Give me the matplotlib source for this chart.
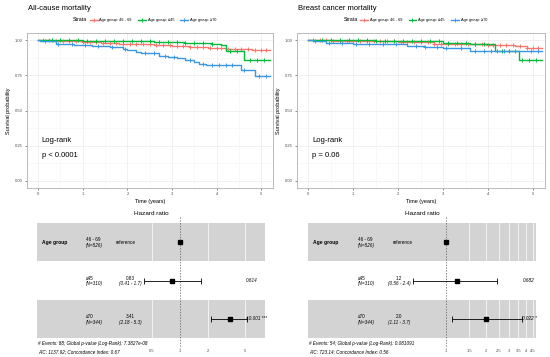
import numpy as np
import matplotlib
matplotlib.use("Agg")
import matplotlib.pyplot as plt
from matplotlib.lines import Line2D

plt.rcParams['font.family'] = ['Liberation Sans', 'DejaVu Sans']

# ---- Kaplan-Meier data ----
groups = ['Age group: 46 - 69', 'Age group: \u226445', 'Age group: \u226570']
colors = ['#F8766D', '#00BA38', '#3B97E3']
t_end = 5.2

# all-cause mortality: step times and survival after each step
ac_times = [
    [0, 0.3, 0.6, 1.0, 1.4, 1.8, 2.2, 2.6, 3.0, 3.4, 3.8, 4.2, 4.5, 4.8],
    [0, 1.0, 2.0, 2.6, 3.3, 3.9, 4.1, 4.2, 4.62],
    [0, 0.05, 0.4, 0.8, 1.2, 1.6, 1.9, 2.0, 2.2, 2.3, 2.7, 2.9, 3.1, 3.3,
     3.5, 3.6, 3.75, 4.55, 4.85],
]
ac_surv = [
    [1.0, 0.995, 0.99, 0.985, 0.98, 0.975, 0.97, 0.965, 0.958, 0.952, 0.946,
     0.94, 0.935, 0.932],
    [1.0, 0.995, 0.99, 0.985, 0.98, 0.975, 0.965, 0.924, 0.856],
    [1.0, 0.99, 0.97, 0.965, 0.955, 0.95, 0.94, 0.93, 0.915, 0.905, 0.89,
     0.877, 0.87, 0.858, 0.845, 0.83, 0.823, 0.787, 0.743],
]

# breast cancer mortality
bc_times = [
    [0, 0.5, 1.2, 2.0, 2.8, 3.4, 4.0, 4.6, 4.85],
    [0, 1.5, 2.5, 3.0, 3.6, 4.15, 4.68],
    [0, 0.1, 0.4, 1.0, 1.6, 2.2, 2.6, 3.0, 3.6],
]
bc_surv = [
    [1.0, 0.995, 0.99, 0.985, 0.975, 0.97, 0.962, 0.956, 0.947],
    [1.0, 0.995, 0.99, 0.98, 0.97, 0.925, 0.855],
    [1.0, 0.99, 0.98, 0.975, 0.97, 0.96, 0.95, 0.945, 0.924],
]

# censoring times per age group (same cohort for both endpoints)
censor = [
    [0.1, 0.25, 0.4, 0.55, 0.7, 0.85, 1.0, 1.15, 1.3, 1.45, 1.6, 1.75, 1.9,
     2.05, 2.2, 2.35, 2.5, 2.65, 2.8, 2.95, 3.1, 3.25, 3.4, 3.55, 3.7, 3.85,
     4.0, 4.1, 4.25, 4.4, 4.55, 4.7, 4.85, 5.0, 5.1],
    [0.3, 0.5, 0.7, 0.9, 1.1, 1.3, 1.5, 1.7, 1.9, 2.1, 2.3, 2.5, 2.7, 2.9,
     3.1, 3.3, 3.5, 3.7, 3.9, 4.3, 4.45, 4.75, 4.9, 5.05],
    [0.15, 0.45, 0.75, 1.05, 1.35, 1.65, 1.95, 2.4, 2.6, 2.85, 3.05, 3.4,
     3.7, 3.9, 4.05, 4.2, 4.35, 4.6, 4.95, 5.1],
]

km_titles = ['All-cause mortality', 'Breast cancer mortality']
km_pvals = ['p < 0.0001', 'p = 0.06']

# ---- forest plot data ----
fp_levels = ['46 - 69', '\u226445', '\u226570']
fp_n = [526, 310, 344]
fp_hr = [[1.0, 0.83, 3.41], [1.0, 1.2, 2.0]]
fp_hr_txt = [['reference', '0.83', '3.41'], ['reference', '1.2', '2.0']]
fp_lo = [[None, 0.41, 2.18], [None, 0.56, 1.11]]
fp_hi = [[None, 1.7, 5.3], [None, 2.4, 3.7]]
fp_p = [['', '0.614', '<0.001 ***'], ['', '0.682', '0.022 *']]
fp_ticks = [[0.5, 1, 2, 5], [1, 1.5, 2, 2.5, 3, 3.5, 4, 4.5]]
fp_notes = [
    ['# Events: 88; Global p-value (Log-Rank): 7.3827e-08',
     'AIC: 1137.92; Concordance Index: 0.67'],
    ['# Events: 54; Global p-value (Log-Rank): 0.081091',
     'AIC: 723.14; Concordance Index: 0.56'],
]

W, H = 550, 357
fig = plt.figure(figsize=(5.5, 3.57), dpi=100)


def box(x0, y0, x1, y1):
    return [x0 / W, 1 - y1 / H, (x1 - x0) / W, (y1 - y0) / H]


def step_value(ts, ss, t):
    i = np.searchsorted(ts, t, side='right') - 1
    return ss[max(i, 0)]


km_boxes = [(27, 33, 273, 188), (297, 33, 545, 188)]
for k, (times, survs) in enumerate([(ac_times, ac_surv), (bc_times, bc_surv)]):
    ax = fig.add_axes(box(*km_boxes[k]))
    for g in range(3):
        ts = list(times[g]) + [t_end]
        ss = list(survs[g]) + [survs[g][-1]]
        ax.step(ts, ss, where='post', color=colors[g], lw=1.0, zorder=3)
        cy = [step_value(times[g], survs[g], c) for c in censor[g]]
        ax.plot(censor[g], cy, ls='none', marker='+', ms=3, mew=0.7,
                color=colors[g], zorder=3)
    ax.set_xlim(-0.25, 5.26)
    ax.set_ylim(-0.05, 1.05)
    ax.set_xticks([0, 1, 2, 3, 4, 5])
    ax.set_xticks(np.arange(0.5, 5.5, 1), minor=True)
    ax.set_yticks([0, 0.25, 0.5, 0.75, 1.0])
    ax.set_yticks([0.125, 0.375, 0.625, 0.875], minor=True)
    ax.set_yticklabels(['0.00', '0.25', '0.50', '0.75', '1.00'])
    ax.grid(which='major', color='#EBEBEB', lw=0.5)
    ax.grid(which='minor', color='#F5F5F5', lw=0.4)
    ax.set_axisbelow(True)
    ax.tick_params(labelsize=3, length=1.5, width=0.4, color='#333333',
                   labelcolor='#4D4D4D', pad=1.5)
    ax.tick_params(which='minor', length=0)
    for s in ax.spines.values():
        s.set_color('#B0B0B0')
        s.set_linewidth(0.6)
    ax.set_xlabel('Time (years)', fontsize=4, labelpad=2)
    ax.set_ylabel('Survival probability', fontsize=4, labelpad=3)
    ax.text(0.06, 0.30, 'Log-rank', transform=ax.transAxes, fontsize=5.5)
    ax.text(0.06, 0.20, km_pvals[k], transform=ax.transAxes, fontsize=5.5)
    x0 = km_boxes[k][0]
    fig.text((x0 + 1) / W, 1 - 9 / H, km_titles[k], fontsize=5.5, va='center')
    handles = [Line2D([], [], color=colors[g], lw=1.0, marker='+', ms=3,
                      mew=0.6) for g in range(3)]
    ax.legend(handles, groups, loc='center left', ncol=3,
              bbox_to_anchor=(0.255, 1.084), frameon=False, fontsize=2.8,
              handlelength=2.0, columnspacing=1.6, handletextpad=0.5,
              borderaxespad=0, borderpad=0)
    ax.text(0.245, 1.084, 'Strata', transform=ax.transAxes, fontsize=3.8,
            ha='right', va='center')

# ---- forest plots ----
fp_boxes = [(37, 223, 265, 338), (308, 223, 536, 338)]
fp_xlim = [(10 ** -1.538, 10 ** 0.914), (10 ** -1.038, 10 ** 0.677)]
col_x = [(0.022, 0.215, 0.346, 0.41, 0.917), (0.022, 0.22, 0.37, 0.40, 0.94)]
for k in range(2):
    ax = fig.add_axes(box(*fp_boxes[k]))
    ax.set_xscale('log')
    ax.set_xlim(*fp_xlim[k])
    ax.set_ylim(3.5, 0.5)
    for r in (1, 3):
        ax.axhspan(r - 0.5, r + 0.5, color='#D3D3D3', lw=0, zorder=0)
    for tk in fp_ticks[k]:
        if tk != 1:
            ax.axvline(tk, color='white', lw=0.5, zorder=1)
    ax.plot([1, 1], [0.35, 3.75], color='#555555', lw=0.5, ls=(0, (2, 2)),
            clip_on=False, zorder=2)
    cx = col_x[k]
    tr = ax.get_yaxis_transform()
    for r in range(3):
        y = r + 1
        if r == 0:
            ax.text(cx[0], y, 'Age group', transform=tr, fontsize=3.6,
                    fontweight='bold', va='center')
        ax.text(cx[1], y, fp_levels[r], transform=tr, fontsize=3.3,
                va='bottom')
        ax.text(cx[1], y + 0.02, '(N=%d)' % fp_n[r], transform=tr,
                fontsize=3.3, va='top', style='italic')
        if r == 0:
            ax.text(cx[2], y, fp_hr_txt[k][r], transform=tr, fontsize=3.3,
                    va='center')
        else:
            ax.text(cx[3], y, fp_hr_txt[k][r], transform=tr, fontsize=3.3,
                    va='bottom', ha='center')
            ax.text(cx[3], y + 0.02, '(%g - %g)' % (fp_lo[k][r], fp_hi[k][r]),
                    transform=tr, fontsize=3.3, va='top', ha='center',
                    style='italic')
            ax.errorbar([fp_hr[k][r]], [y],
                        xerr=[[fp_hr[k][r] - fp_lo[k][r]],
                              [fp_hi[k][r] - fp_hr[k][r]]],
                        fmt='none', ecolor='black', elinewidth=0.6,
                        capsize=2, capthick=0.6, zorder=4)
            ax.text(cx[4], y, fp_p[k][r], transform=tr, fontsize=3.3,
                    va='center', style='italic')
        ax.plot([fp_hr[k][r]], [y], ls='none', marker='s', ms=3.2,
                color='black', zorder=5)
    ax.set_xticks(fp_ticks[k])
    ax.set_xticklabels(['%g' % t for t in fp_ticks[k]])
    ax.xaxis.set_minor_locator(matplotlib.ticker.NullLocator())
    ax.set_yticks([])
    ax.tick_params(axis='x', labelsize=3, length=0, pad=8,
                   labelcolor='#4D4D4D')
    for s in ax.spines.values():
        s.set_visible(False)
    ax.set_title('Hazard ratio', fontsize=4.6, pad=6)
    x0 = fp_boxes[k][0]
    fig.text((x0 + 1) / W, 1 - 343 / H, fp_notes[k][0], fontsize=3.3,
             style='italic', va='center')
    fig.text((x0 + 1) / W, 1 - 352 / H, fp_notes[k][1], fontsize=3.3,
             style='italic', va='center')

fig.savefig('out.png', dpi=100)
